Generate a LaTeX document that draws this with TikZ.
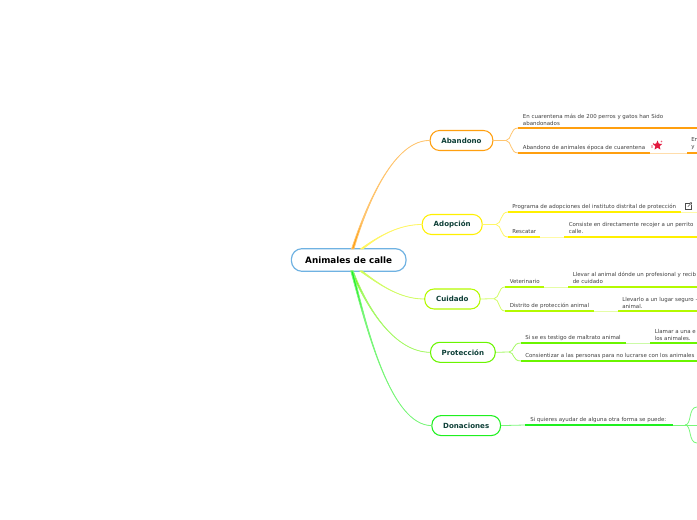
\documentclass[tikz,border=0pt]{standalone}
\usepackage{fontspec}
\usepackage{xcolor}
\setmainfont{DejaVu Sans}
\usetikzlibrary{shapes.geometric}
\definecolor{orangeline}{HTML}{FF9F0F}
\definecolor{yellowline}{HTML}{FFF000}
\definecolor{limeline}{HTML}{B4FA00}
\definecolor{greenline}{HTML}{6AF500}
\definecolor{brightline}{HTML}{1FF01F}
\definecolor{rootline}{HTML}{6FB2E2}
\definecolor{titletext}{HTML}{0F4038}
\definecolor{starred}{HTML}{E2193F}
\tikzset{
  mainbox/.style={draw=#1, line width=0.8pt, rounded corners=7pt, fill=white, minimum height=15pt, font=\bfseries\fontsize{5.3}{7}\selectfont, text=titletext, inner sep=0pt},
  rootbox/.style={draw=rootline, line width=0.9pt, rounded corners=8pt, fill=white, font=\bfseries\fontsize{6.6}{9}\selectfont, text=black, inner sep=0pt, minimum width=86pt, minimum height=17pt},
  leaf/.style={font=\fontsize{4.1}{5.2}\selectfont, text=black!75, anchor=west, align=left, inner sep=0pt},
  underline/.style={color=#1, line width=1pt},
  pale/.style={color=#1!35, line width=0.7pt},
  link/.style={color=#1!60, line width=0.6pt}
}
\begin{document}
\begin{tikzpicture}[x=0.75pt, y=-0.75pt]
\useasboundingbox (0,0) rectangle (697,520);
% centre
\node[rootbox] (root) at (348.7,260) {Animales de calle};
\coordinate (rootA) at (352.7,249);
\coordinate (rootB) at (361.7,249);
\coordinate (rootC) at (361,271);
\coordinate (rootD) at (352,271);

% main topics
\node[mainbox=orangeline, minimum width=47pt] (abandono) at (461.5,140.5) {Abandono};
\node[mainbox=yellowline, minimum width=45pt] (adopcion) at (452.2,224.5) {Adopción};
\node[mainbox=limeline, minimum width=41.5pt] (cuidado) at (452.4,299) {Cuidado};
\node[mainbox=greenline, minimum width=48.5pt] (proteccion) at (462.9,352.3) {Protección};
\node[mainbox=brightline, minimum width=51.5pt] (donaciones) at (466.2,425.6) {Donaciones};

% branches from the centre
\draw[link=orangeline, fill=orangeline] ([xshift=-0.9pt]rootA) .. controls (368,200) and (395,140) .. (abandono.west) .. controls (395,140) and (368,200) .. ([xshift=0.9pt]rootA) -- cycle;
\draw[link=yellowline, fill=yellowline] ([xshift=-0.9pt]rootB) .. controls (380,235) and (400,224.5) .. (adopcion.west) .. controls (400,224.5) and (380,235) .. ([xshift=0.9pt]rootB) -- cycle;
\draw[link=limeline, fill=limeline] ([xshift=-0.9pt]rootC) .. controls (380,285) and (400,299) .. (cuidado.west) .. controls (400,299) and (380,285) .. ([xshift=0.9pt]rootC) -- cycle;
\draw[link=greenline, fill=greenline] ([xshift=-0.9pt]rootD) .. controls (368,310) and (395,352) .. (proteccion.west) .. controls (395,352) and (368,310) .. ([xshift=0.9pt]rootD) -- cycle;
\draw[link=brightline, fill=brightline] ([xshift=-0.9pt]rootD) .. controls (368,335) and (392,425) .. (donaciones.west) .. controls (392,425) and (368,335) .. ([xshift=0.9pt]rootD) -- cycle;

% Abandono
\node[leaf] (cuarentena) at (522.7,119.5) {En cuarentena más de 200 perros y gatos han Sido\\abandonados};
\node[leaf] (epoca) at (522.5,147.6) {Abandono de animales época de cuarentena};
\node[leaf] (epocatext) at (691,143.4) {En\\y};
\coordinate (forkab) at (506,140.5);
\coordinate (abup) at (518,128);
\coordinate (abdown) at (518,153);
\draw[link=orangeline] (abandono.east) -- (forkab);
\draw[link=orangeline] (forkab) .. controls (512,140) and (510,128) .. (abup);
\draw[link=orangeline] (forkab) .. controls (512,141) and (510,153) .. (abdown);
\draw[underline=orangeline] (abup) -- (697,128);
\draw[underline=orangeline] (abdown) -- (650,153);
\draw[pale=orangeline] (650,153) -- (687,153);
\draw[underline=orangeline] (687,153) -- (697,153);
\node[star, star points=5, star point ratio=2.2, fill=starred, inner sep=0pt, minimum size=7.5pt] (estrella) at (657.5,145.5) {};
\fill[starred!70] (652,146) circle (0.6pt) (653.5,143.5) circle (0.5pt) (661.5,141.5) circle (0.6pt) (652,147.5) circle (0.5pt);

% Adopcion
\node[leaf] (programa) at (512,206.6) {Programa de adopciones del instituto distrital de protección};
\node[leaf] (rescatar) at (512,231.6) {Rescatar};
\node[leaf] (recojer) at (568.5,228) {Consiste en directamente recojer a un perrito\\calle.};
\coordinate (forkad) at (496,224.5);
\coordinate (adup) at (508,212);
\coordinate (addown) at (508,237);
\draw[link=yellowline] (adopcion.east) -- (forkad);
\draw[link=yellowline] (forkad) .. controls (502,224) and (500,212) .. (adup);
\draw[link=yellowline] (forkad) .. controls (502,225) and (500,237) .. (addown);
\draw[underline=yellowline] (adup) -- (681,212);
\draw[pale=yellowline] (681,212) -- (697,212);
\draw[underline=yellowline] (addown) -- (540,237);
\draw[pale=yellowline] (540,237) -- (564,237);
\draw[underline=yellowline] (564,237) -- (697,237);
% icono de enlace
\draw[black!70, line width=0.4pt] (689.5,202.9) -- (685.2,202.9) -- (685.2,209.2) -- (691.5,209.2) -- (691.5,205);
\draw[black!70, line width=0.4pt] (687.8,206.8) -- (691.7,202.7) (689.8,202.7) -- (691.7,202.7) -- (691.7,204.6);

% Cuidado
\node[leaf] (veterinario) at (509.5,281.6) {Veterinario};
\node[leaf] (llevar) at (572.5,278) {Llevar al animal dónde un profesional y recib\\de cuidado};
\node[leaf] (distrito) at (509.5,305.6) {Distrito de protección animal};
\node[leaf] (seguro) at (622,302.5) {Llevarlo a un lugar seguro -\\animal.};
\coordinate (forkcu) at (494,298.7);
\coordinate (cuup) at (505,287);
\coordinate (cudown) at (505,311);
\draw[link=limeline] (cuidado.east) -- (forkcu);
\draw[link=limeline] (forkcu) .. controls (500,298) and (498,287) .. (cuup);
\draw[link=limeline] (forkcu) .. controls (500,299) and (498,311) .. (cudown);
\draw[underline=limeline] (cuup) -- (544,287);
\draw[pale=limeline] (544,287) -- (568,287);
\draw[underline=limeline] (568,287) -- (697,287);
\draw[underline=limeline] (cudown) -- (594,311);
\draw[pale=limeline] (594,311) -- (618,311);
\draw[underline=limeline] (618,311) -- (697,311);

% Proteccion
\node[leaf] (testigo) at (525,337.6) {Si se es testigo de maltrato animal};
\node[leaf] (llamar) at (654.5,334.6) {Llamar a una e\\los animales.};
\node[leaf] (lucrarse) at (525,355.6) {Consientizar a las personas para no lucrarse con los animales};
\coordinate (forkpr) at (509,352);
\coordinate (prup) at (521,343);
\coordinate (prdown) at (521,361);
\draw[link=greenline] (proteccion.east) -- (forkpr);
\draw[link=greenline] (forkpr) .. controls (515,351.5) and (512,343) .. (prup);
\draw[link=greenline] (forkpr) .. controls (515,352.5) and (512,361) .. (prdown);
\draw[underline=greenline] (prup) -- (626,343);
\draw[pale=greenline] (626,343) -- (650,343);
\draw[underline=greenline] (650,343) -- (697,343);
\draw[underline=greenline] (prdown) -- (697,361);

% Donaciones
\node[leaf] (ayudar) at (530,419.6) {Si quieres ayudar de alguna otra forma se puede:};
\coordinate (donstart) at (525,425);
\coordinate (donend) at (673,425);
\coordinate (forkdo) at (685,425);
\coordinate (doup) at (697,407);
\coordinate (domid) at (697,425);
\coordinate (dodown) at (697,443);
\draw[link=brightline] (donaciones.east) -- (donstart);
\draw[underline=brightline] (donstart) -- (donend);
\draw[link=brightline] (donend) -- (forkdo);
\draw[link=brightline] (forkdo) .. controls (692,425) and (688,407) .. (doup);
\draw[link=brightline] (forkdo) -- (domid);
\draw[link=brightline] (forkdo) .. controls (692,425) and (688,443) .. (dodown);
\end{tikzpicture}
\end{document}
